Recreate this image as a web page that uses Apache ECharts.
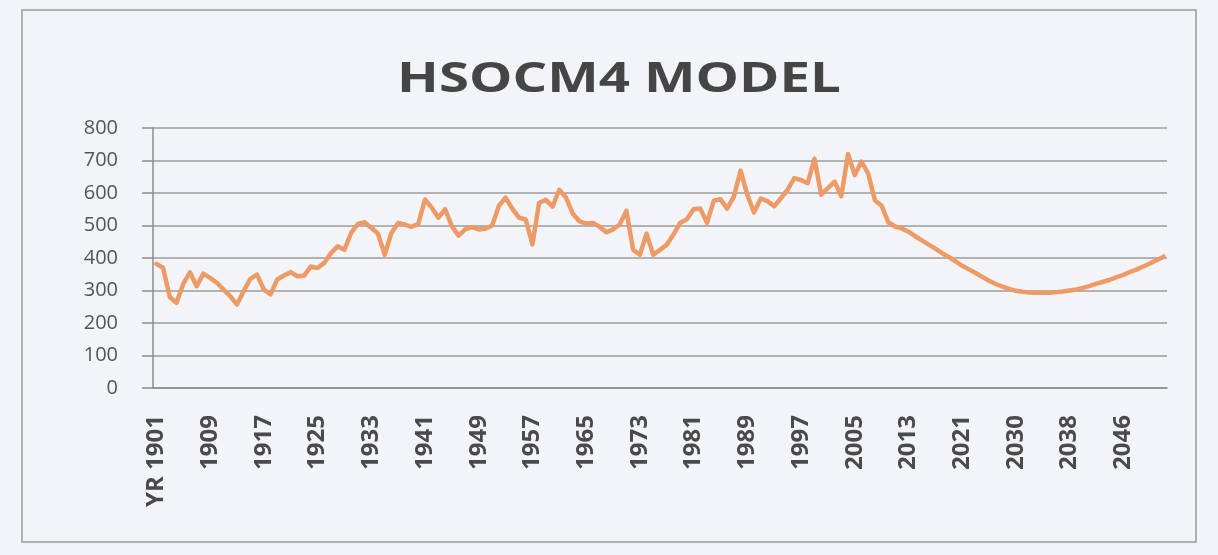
<!DOCTYPE html>
<html>
<head>
<meta charset="utf-8">
<title>HSOCM4 MODEL</title>
<script src="https://cdn.jsdelivr.net/npm/echarts@6.0.0/dist/echarts.min.js"></script>
<style>
  html, body { margin: 0; padding: 0; background: #f3f4f8; }
  #chart { width: 1218px; height: 555px; }
</style>
</head>
<body>
<div id="chart"></div>
<script>
// year labels (2022 is not in the source table)
var years = [
  'YR 1901','1902','1903','1904','1905','1906','1907','1908','1909','1910',
  '1911','1912','1913','1914','1915','1916','1917','1918','1919','1920',
  '1921','1922','1923','1924','1925','1926','1927','1928','1929','1930',
  '1931','1932','1933','1934','1935','1936','1937','1938','1939','1940',
  '1941','1942','1943','1944','1945','1946','1947','1948','1949','1950',
  '1951','1952','1953','1954','1955','1956','1957','1958','1959','1960',
  '1961','1962','1963','1964','1965','1966','1967','1968','1969','1970',
  '1971','1972','1973','1974','1975','1976','1977','1978','1979','1980',
  '1981','1982','1983','1984','1985','1986','1987','1988','1989','1990',
  '1991','1992','1993','1994','1995','1996','1997','1998','1999','2000',
  '2001','2002','2003','2004','2005','2006','2007','2008','2009','2010',
  '2011','2012','2013','2014','2015','2016','2017','2018','2019','2020',
  '2021','2023','2024','2025','2026','2027','2028','2029','2030','2031',
  '2032','2033','2034','2035','2036','2037','2038','2039','2040','2041',
  '2042','2043','2044','2045','2046','2047','2048','2049','2050','2051',
  '2052'
];

// model values
var hsocm4 = [
  382,370,280,262,320,356,313,352,339,324,
  303,283,257,298,336,349,303,288,334,346,
  356,344,346,374,369,385,415,436,425,477,
  505,510,493,475,410,477,508,503,496,505,
  580,555,524,550,498,469,488,495,488,490,
  500,560,586,552,524,519,442,570,579,558,
  610,586,537,513,506,508,496,479,488,503,
  545,425,410,475,410,425,441,472,508,519,
  550,552,508,576,581,552,589,669,595,540,
  583,575,559,584,610,646,640,630,706,595,
  615,635,590,720,655,697,660,578,561,510,
  497,491,481,467,454,441,429,415,403,390,
  376,365,354,342,330,320,312,305,299,296,
  294,293,293,293,295,297,300,303,308,314,
  321,327,333,341,348,357,365,374,384,394,
  404
];

var yTicks = [0, 100, 200, 300, 400, 500, 600, 700, 800];

var chartTitle = 'HSOCM4 MODEL';

var myChart = echarts.init(document.getElementById('chart'));

var option = {
  backgroundColor: '#f3f4f8',
  animation: false,
  graphic: [
    // chart area frame
    {
      type: 'rect',
      shape: { x: 22, y: 10, width: 1174, height: 532 },
      style: { fill: 'none', stroke: '#9a9a9a', lineWidth: 1.5 },
      silent: true
    },
    // title, stretched a bit wider like the scanned original
    {
      type: 'text',
      x: 619,
      y: 80,
      scaleX: 1.3,
      style: {
        text: chartTitle,
        font: 'bold 42px "Open Sans"',
        fill: '#454545',
        align: 'center',
        verticalAlign: 'middle'
      },
      silent: true
    }
  ],
  grid: {
    left: 153,
    right: 51,
    top: 128,
    bottom: 167
  },
  xAxis: {
    type: 'category',
    data: years,
    boundaryGap: true,
    axisLine: { lineStyle: { color: '#8c8c8c', width: 1.5 } },
    axisTick: {
      interval: 0,
      length: 6,
      lineStyle: { color: '#8c8c8c' }
    },
    axisLabel: {
      interval: 7,
      rotate: 90,
      margin: 27,
      fontFamily: 'Open Sans',
      fontWeight: 'bold',
      fontSize: 24,
      color: '#4a4a4a'
    }
  },
  yAxis: {
    type: 'value',
    min: yTicks[0],
    max: yTicks[yTicks.length - 1],
    interval: 100,
    axisLine: { show: true, lineStyle: { color: '#8c8c8c', width: 1.5 } },
    axisTick: { show: true, length: 11, lineStyle: { color: '#8c8c8c', width: 1.5 } },
    axisLabel: {
      margin: 35,
      fontFamily: 'Open Sans',
      fontSize: 20,
      color: '#555555'
    },
    splitLine: { lineStyle: { color: '#9c9c9c', width: 1.5 } }
  },
  series: [{
    name: 'HSOCM4',
    type: 'line',
    data: hsocm4,
    smooth: false,
    symbol: 'none',
    lineStyle: { color: '#ee9a66', width: 4.5, join: 'round', cap: 'round' }
  }]
};

myChart.setOption(option);
</script>
</body>
</html>
